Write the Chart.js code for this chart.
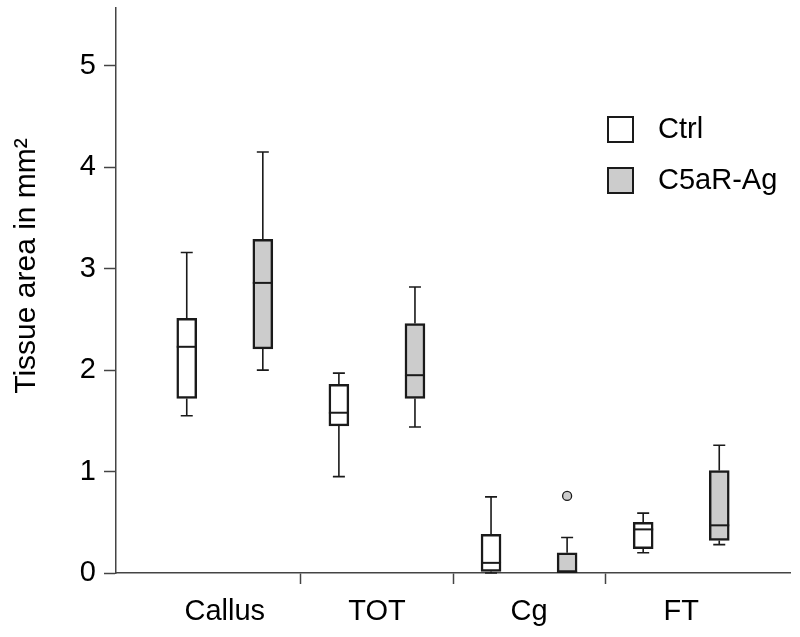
<!DOCTYPE html>
<html lang="en">
<head>
<meta charset="UTF-8">
<title>Tissue area box plot</title>
<script src="https://cdn.jsdelivr.net/npm/chart.js"></script>
<style>
    body { margin: 0; background: #fff; }
    #wrap { width: 800px; height: 637px; position: relative; }
</style>
</head>
<body>
<div id="wrap"><canvas id="boxChart"></canvas></div>

<script>
    // values (mm^2)
    const categories = ['Callus', 'TOT', 'Cg', 'FT'];
    const seriesNames = ['Ctrl', 'C5aR-Ag'];
    const seriesColors = ['#ffffff', '#cccccc'];

    const ctrlMin    = [1.55, 0.95, 0.00, 0.20];
    const ctrlQ1     = [1.72, 1.45, 0.015, 0.24];
    const ctrlMedian = [2.23, 1.58, 0.10, 0.43];
    const ctrlQ3     = [2.51, 1.86, 0.38, 0.50];
    const ctrlMax    = [3.16, 1.97, 0.75, 0.59];
    const ctrlOutliers = [[], [], [], []];

    const agMin    = [2.00, 1.44, 0.00, 0.28];
    const agQ1     = [2.21, 1.72, 0.00, 0.32];
    const agMedian = [2.86, 1.95, 0.01, 0.47];
    const agQ3     = [3.29, 2.46, 0.20, 1.01];
    const agMax    = [4.15, 2.82, 0.35, 1.26];
    const agOutliers = [[], [], [0.76], []];

    const yTicks = [0, 1, 2, 3, 4, 5];
    const yTitle = 'Tissue area in mm\u00b2';

    const stats = [
        { min: ctrlMin, q1: ctrlQ1, med: ctrlMedian, q3: ctrlQ3, max: ctrlMax, out: ctrlOutliers },
        { min: agMin, q1: agQ1, med: agMedian, q3: agQ3, max: agMax, out: agOutliers }
    ];

    Chart.defaults.font.family = "'Liberation Sans', Arial, sans-serif";
    Chart.defaults.color = '#000';

    const LINE = '#1a1a1a';
    const AXIS = '#444';

    // box i of series s sits at x = 2*i + s
    const datasets = seriesNames.map((name, s) => ({
        label: name,
        data: categories.map((c, i) => ({ x: 2 * i + s, y: [stats[s].q1[i], stats[s].q3[i]] })),
        backgroundColor: seriesColors[s],
        borderColor: LINE,
        borderWidth: 2.5,
        borderSkipped: false,
        barThickness: 20,
        grouped: false
    }));

    const boxPlugin = {
        id: 'boxParts',
        afterDatasetsDraw(chart) {
            const ctx = chart.ctx;
            const y = chart.scales.y;
            ctx.save();
            chart.data.datasets.forEach((ds, s) => {
                const meta = chart.getDatasetMeta(s);
                const st = stats[s];
                meta.data.forEach((bar, i) => {
                    const cx = bar.x;
                    const half = bar.width / 2;
                    // whiskers
                    ctx.strokeStyle = LINE;
                    ctx.lineWidth = 1.6;
                    ctx.beginPath();
                    ctx.moveTo(cx, y.getPixelForValue(st.q3[i]));
                    ctx.lineTo(cx, y.getPixelForValue(st.max[i]));
                    ctx.moveTo(cx - 6, y.getPixelForValue(st.max[i]));
                    ctx.lineTo(cx + 6, y.getPixelForValue(st.max[i]));
                    if (st.min[i] < st.q1[i]) {
                        ctx.moveTo(cx, y.getPixelForValue(st.q1[i]));
                        ctx.lineTo(cx, y.getPixelForValue(st.min[i]));
                        ctx.moveTo(cx - 6, y.getPixelForValue(st.min[i]));
                        ctx.lineTo(cx + 6, y.getPixelForValue(st.min[i]));
                    }
                    ctx.stroke();
                    // median
                    ctx.lineWidth = 2;
                    ctx.beginPath();
                    ctx.moveTo(cx - half, y.getPixelForValue(st.med[i]));
                    ctx.lineTo(cx + half, y.getPixelForValue(st.med[i]));
                    ctx.stroke();
                    // outliers
                    st.out[i].forEach(v => {
                        ctx.beginPath();
                        ctx.arc(cx, y.getPixelForValue(v), 4.5, 0, Math.PI * 2);
                        ctx.fillStyle = seriesColors[s];
                        ctx.fill();
                        ctx.lineWidth = 1.3;
                        ctx.stroke();
                    });
                });
            });

            // legend
            ctx.font = "29px 'Liberation Sans', Arial, sans-serif";
            ctx.textBaseline = 'middle';
            ctx.textAlign = 'left';
            seriesNames.forEach((name, s) => {
                const top = 117 + s * 51;
                ctx.fillStyle = seriesColors[s];
                ctx.fillRect(608, top, 25, 25);
                ctx.strokeStyle = LINE;
                ctx.lineWidth = 2;
                ctx.strokeRect(608, top, 25, 25);
                ctx.fillStyle = '#000';
                ctx.fillText(name, 658, top + 13);
            });

            // y axis title
            ctx.font = "30px 'Liberation Sans', Arial, sans-serif";
            ctx.translate(27, 266);
            ctx.rotate(-Math.PI / 2);
            ctx.textAlign = 'center';
            ctx.fillText(yTitle, 0, 0);
            ctx.restore();
        }
    };

    const chartCtx = document.getElementById('boxChart').getContext('2d');
    const boxChart = new Chart(chartCtx, {
        type: 'bar',
        data: { datasets: datasets },
        options: {
            responsive: true,
            maintainAspectRatio: false,
            animation: false,
            layout: { padding: { top: 8, right: 10, left: 0, bottom: 0 } },
            plugins: {
                legend: { display: false },
                tooltip: { enabled: false }
            },
            scales: {
                x: {
                    type: 'linear',
                    offset: false,
                    min: -0.93,
                    max: 7.93,
                    afterBuildTicks: (scale) => {
                        scale.ticks = [0.5, 1.5, 2.5, 3.5, 4.5, 5.5, 6.5].map(v => ({ value: v }));
                    },
                    afterFit: (scale) => {
                        scale.height = 64;
                        scale.paddingLeft = 0;
                        scale.paddingRight = 0;
                    },
                    ticks: {
                        autoSkip: false,
                        maxRotation: 0,
                        padding: 11,
                        font: { size: 29 },
                        callback: (value, index) => index % 2 === 0 ? categories[index / 2] : ''
                    },
                    grid: {
                        offset: false,
                        drawOnChartArea: false,
                        tickLength: 11,
                        tickWidth: 1.5,
                        tickColor: (c) => c.index % 2 === 1 ? AXIS : 'rgba(0,0,0,0)'
                    },
                    border: { color: AXIS, width: 1.5 }
                },
                y: {
                    min: 0,
                    max: 5.57,
                    afterBuildTicks: (scale) => {
                        scale.ticks = yTicks.map(v => ({ value: v }));
                    },
                    afterFit: (scale) => {
                        scale.width = 116;
                        scale.paddingTop = 0;
                        scale.paddingBottom = 0;
                    },
                    ticks: {
                        padding: 8,
                        font: { size: 29 }
                    },
                    grid: {
                        drawOnChartArea: false,
                        tickLength: 12,
                        tickWidth: 1.5,
                        tickColor: AXIS
                    },
                    border: { color: AXIS, width: 1.5 }
                }
            }
        },
        plugins: [boxPlugin]
    });
</script>
</body>
</html>
